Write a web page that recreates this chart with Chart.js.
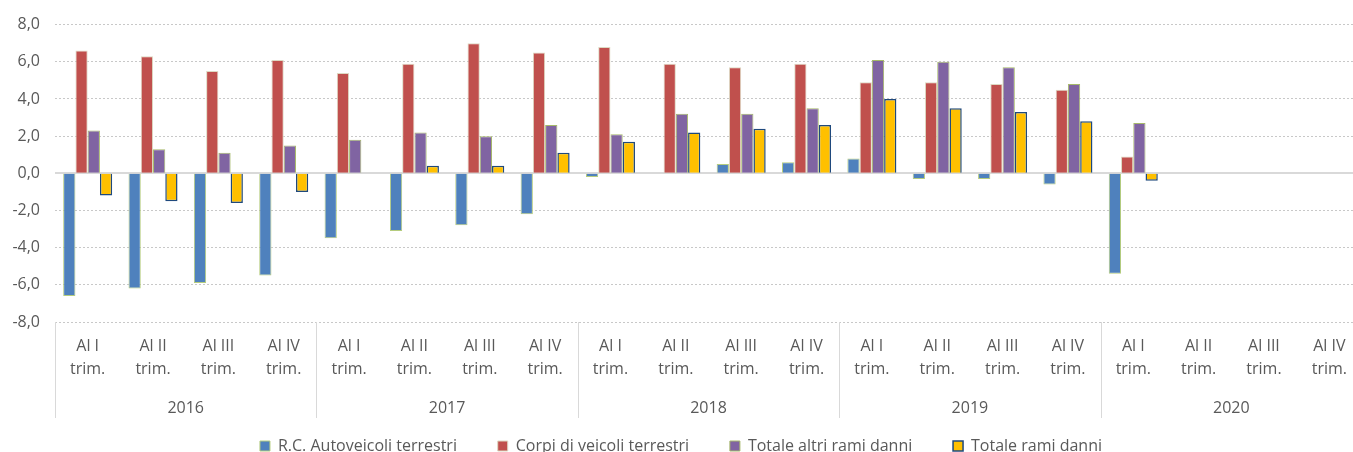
<!DOCTYPE html>
<html>
<head>
<meta charset="utf-8">
<script src="https://cdn.jsdelivr.net/npm/chart.js@4"></script>
<style>
  html, body { margin: 0; padding: 0; background: #fff; overflow: hidden; }
  #wrap { width: 1362px; height: 464px; }
</style>
</head>
<body>
<div id="wrap"><canvas id="chart" width="1362" height="464"></canvas></div>
<script>
const years = ["2016", "2017", "2018", "2019", "2020"];
const quarters = [["Al I", "trim."], ["Al II", "trim."], ["Al III", "trim."], ["Al IV", "trim."]];

const rcAuto = [-6.6, -6.2, -5.9, -5.5, -3.5, -3.1, -2.8, -2.2, -0.2, 0.0, 0.5, 0.6, 0.8, -0.3, -0.3, -0.6, -5.4, null, null, null];
const corpiVeicoli = [6.6, 6.3, 5.5, 6.1, 5.4, 5.9, 7.0, 6.5, 6.8, 5.9, 5.7, 5.9, 4.9, 4.9, 4.8, 4.5, 0.9, null, null, null];
const altriRami = [2.3, 1.3, 1.1, 1.5, 1.8, 2.2, 2.0, 2.6, 2.1, 3.2, 3.2, 3.5, 6.1, 6.0, 5.7, 4.8, 2.7, null, null, null];
const totaleRami = [-1.2, -1.5, -1.6, -1.0, 0.0, 0.4, 0.4, 1.1, 1.7, 2.2, 2.4, 2.6, 4.0, 3.5, 3.3, 2.8, -0.4, null, null, null];

const labels = [];
years.forEach(() => quarters.forEach(q => labels.push(q)));

const textColor = "#595959";
const axisBand = 96;

// year row and separators under the quarter labels
const yearRow = {
    id: "yearRow",
    afterDraw(chart) {
        const ctx = chart.ctx;
        const x = chart.scales.x;
        const top = chart.chartArea.bottom;
        const half = (x.getPixelForValue(1) - x.getPixelForValue(0)) / 2;
        ctx.save();
        ctx.strokeStyle = "#d9d9d9";
        ctx.lineWidth = 1;
        ctx.fillStyle = textColor;
        ctx.font = "16px 'Open Sans'";
        ctx.textAlign = "center";
        ctx.textBaseline = "middle";
        years.forEach((yr, i) => {
            const left = Math.round(x.getPixelForValue(4 * i) - half) + 0.5;
            ctx.beginPath();
            ctx.moveTo(left, top);
            ctx.lineTo(left, top + axisBand);
            ctx.stroke();
            const mid = (x.getPixelForValue(4 * i) + x.getPixelForValue(4 * i + 3)) / 2;
            ctx.fillText(yr, mid, top + 86);
        });
        ctx.restore();
    },
    beforeDatasetsDraw(chart) {
        const ctx = chart.ctx;
        const y0 = Math.round(chart.scales.y.getPixelForValue(0));
        ctx.save();
        ctx.strokeStyle = "#d9d9d9";
        ctx.lineWidth = 2;
        ctx.beginPath();
        ctx.moveTo(chart.chartArea.left, y0);
        ctx.lineTo(chart.chartArea.right, y0);
        ctx.stroke();
        ctx.restore();
    }
};

new Chart(document.getElementById("chart"), {
    type: "bar",
    data: {
        labels: labels,
        datasets: [
            { label: "R.C. Autoveicoli terrestri", data: rcAuto, backgroundColor: "#4f81bd", borderColor: "#b5cc7e", borderWidth: 1 },
            { label: "Corpi di veicoli terrestri", data: corpiVeicoli, backgroundColor: "#c0504d", borderColor: "#ddd9c3", borderWidth: 1 },
            { label: "Totale altri rami danni", data: altriRami, backgroundColor: "#8064a2", borderColor: "#a6b96a", borderWidth: 1 },
            { label: "Totale rami danni", data: totaleRami, backgroundColor: "#ffc000", borderColor: "#1f497d", borderWidth: 1.5 }
        ]
    },
    options: {
        responsive: false,
        animation: false,
        layout: { padding: { top: 20, left: 0, right: 0, bottom: 0 } },
        datasets: { bar: { categoryPercentage: 0.75, barPercentage: 1.0 } },
        plugins: {
            tooltip: { enabled: false },
            legend: {
                position: "bottom",
                labels: {
                    color: textColor,
                    font: { family: "'Open Sans'", size: 16 },
                    boxWidth: 10,
                    boxHeight: 10,
                    padding: 20,
                    // wider gaps between items without raising the row
                    generateLabels(chart) {
                        const items = Chart.defaults.plugins.legend.labels.generateLabels(chart);
                        items.forEach((it, i) => {
                            if (i < items.length - 1) it.text = it.text + "     ";
                        });
                        return items;
                    }
                }
            }
        },
        scales: {
            x: {
                grid: { display: false },
                border: { display: false },
                ticks: {
                    color: textColor,
                    font: { family: "'Open Sans'", size: 16, lineHeight: 1.45 },
                    padding: 5,
                    maxRotation: 0,
                    autoSkip: false
                },
                afterFit(scale) { scale.height = axisBand; }
            },
            y: {
                min: -8,
                max: 8,
                grid: { color: "#c8c8c8", lineWidth: 1, drawTicks: false },
                border: { display: false, dash: [2, 2] },
                ticks: {
                    stepSize: 2,
                    color: textColor,
                    font: { family: "'Open Sans'", size: 16 },
                    padding: 15,
                    callback: v => v.toFixed(1).replace(".", ",")
                },
                afterFit(scale) { scale.width = 55; }
            }
        }
    },
    plugins: [yearRow]
});
</script>
</body>
</html>
